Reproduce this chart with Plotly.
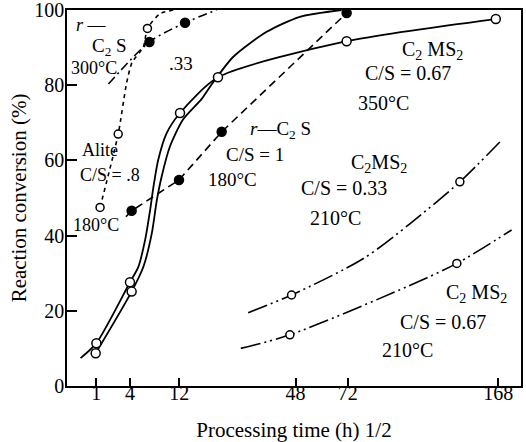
import numpy as np
import plotly.graph_objects as go

# x values are in h^(1/2) units (axis: Processing time (h) 1/2)
tick_hours = [1, 4, 12, 48, 72, 168]
y_ticks = [0, 20, 40, 60, 80, 100]

# solid curve A (with C2MS2 C/S=0.67 350C points)
curve_a_x = [0.53, 1.0, 2.0, 2.25, 2.45, 2.6, 2.7, 2.84, 3.09, 3.49, 4.62, 8.45, 12.89]
curve_a_y = [7.4, 11.4, 27.6, 31.7, 38.8, 46.8, 53.0, 60.1, 67.2, 72.6, 82.1, 91.7, 97.6]
pts_a_x = [1.0, 2.0, 3.49, 4.62, 8.45, 12.89]
pts_a_y = [11.4, 27.6, 72.6, 82.1, 91.7, 97.6]

# solid curve B
curve_b_x = [0.98, 2.05, 2.4, 2.65, 2.8, 2.94, 3.19, 3.58, 4.13, 4.4, 5.07, 6.07, 7.06, 8.3]
curve_b_y = [8.7, 25.1, 31.7, 40.6, 49.4, 55.6, 63.7, 70.9, 76.3, 79.8, 87.5, 94.2, 98.2, 100]
pts_b_x = [0.98, 2.05]
pts_b_y = [8.7, 25.1]

# r-C2S C/S=1 180C (dashed, filled dots)
c2s180_x = [1.88, 2.05, 3.46, 4.73, 8.45]
c2s180_y = [45.0, 46.6, 54.8, 67.6, 99.2]
c2s180_pts_x = [2.05, 3.46, 4.73, 8.45]
c2s180_pts_y = [46.6, 54.8, 67.6, 99.2]

# r-C2S 300C (dash-dot, filled dots)
c2s300_x = [1.36, 2.58, 3.64, 4.58]
c2s300_y = [80.3, 91.5, 96.6, 100]
c2s300_pts_x = [2.58, 3.64]
c2s300_pts_y = [91.5, 96.6]

# Alite C/S=.8 180C (dotted, open circles)
alite_x = [1.11, 1.65, 1.9, 2.06, 2.4, 2.52, 2.89, 3.3]
alite_y = [47.5, 67.0, 80.6, 86.0, 90.2, 95.1, 99.0, 100]
alite_pts_x = [1.11, 1.65, 2.52]
alite_pts_y = [47.5, 67.0, 95.1]

# C2MS2 C/S=0.33 210C (dash-dot-dot)
ms033_x = [5.52, 6.81, 8.95, 10.34, 11.82, 13.01]
ms033_y = [19.5, 24.2, 33.9, 43.2, 54.3, 64.9]
ms033_pts_x = [6.81, 11.82]
ms033_pts_y = [24.2, 54.3]

# C2MS2 C/S=0.67 210C (dash-dot-dot)
ms067_x = [5.3, 6.76, 10.24, 11.73, 13.36]
ms067_y = [10.0, 13.6, 26.4, 32.6, 41.5]
ms067_pts_x = [6.76, 11.73]
ms067_pts_y = [13.6, 32.6]

labels = [
    ("<i>r</i> —", 0.87, 96.0, 18),
    ("C<sub>2</sub> S", 1.38, 90.1, 19),
    ("300°C", 0.93, 84.5, 18),
    (".33", 3.52, 85.9, 19),
    ("Alite", 1.11, 62.7, 18),
    ("C/S = .8", 1.41, 56.1, 18),
    ("180°C", 0.99, 42.8, 18),
    ("<i>r</i>—C<sub>2</sub> S", 6.47, 68.0, 19),
    ("C/S = 1", 5.72, 61.7, 19),
    ("180°C", 5.04, 55.0, 19),
    ("C<sub>2</sub> MS<sub>2</sub>", 11.0, 89.3, 20),
    ("C/S = 0.67", 10.27, 83.2, 20),
    ("350°C", 9.56, 75.2, 20),
    ("C<sub>2</sub>MS<sub>2</sub>", 9.41, 59.3, 20),
    ("C/S = 0.33", 8.37, 52.6, 20),
    ("210°C", 8.13, 44.7, 20),
    ("C<sub>2</sub> MS<sub>2</sub>", 12.33, 24.7, 20),
    ("C/S = 0.67", 11.32, 17.0, 20),
    ("210°C", 10.27, 9.6, 20),
]

FONT = "Liberation Serif, Times New Roman, serif"
BLACK = "black"

fig = go.Figure()

def line(x, y, dash, shape="spline", width=1.6, smoothing=0.8):
    kw = dict(color=BLACK, width=width, dash=dash, shape=shape)
    if shape == "spline":
        kw["smoothing"] = smoothing
    fig.add_trace(go.Scatter(x=x, y=y, mode="lines", line=kw,
                             hoverinfo="skip", showlegend=False))

def pts(x, y, filled, symbol="circle", size=9):
    fig.add_trace(go.Scatter(
        x=x, y=y, mode="markers", showlegend=False,
        marker=dict(symbol=symbol, size=size,
                    color=BLACK if filled else "white",
                    line=dict(color=BLACK, width=1.5))))

line(curve_a_x, curve_a_y, "solid", width=1.8, smoothing=0.7)
line(curve_b_x, curve_b_y, "solid", width=1.8, smoothing=0.7)
line(c2s180_x, c2s180_y, "8px,5px", shape="linear")
line(c2s300_x, c2s300_y, "9px,4px,2px,4px")
line(alite_x, alite_y, "4px,4px", smoothing=0.6)
line(ms033_x, ms033_y, "20px,4px,2px,4px,2px,4px")
line(ms067_x, ms067_y, "20px,4px,2px,4px,2px,4px")

pts(pts_a_x, pts_a_y, False)
pts(pts_b_x, pts_b_y, False)
pts(c2s180_pts_x, c2s180_pts_y, True)
pts(c2s300_pts_x, c2s300_pts_y, True)
pts(alite_pts_x, alite_pts_y, False, size=8)
pts(ms033_pts_x, ms033_pts_y, False, size=8)
pts(ms067_pts_x, ms067_pts_y, False, size=8)

for text, x, y, sz in labels:
    fig.add_annotation(x=x, y=y, text=text, showarrow=False,
                       font=dict(family=FONT, size=sz, color=BLACK))

axis_common = dict(showline=True, linecolor=BLACK, linewidth=1.5, mirror=True,
                   ticks="inside", tickwidth=1.5, tickcolor=BLACK,
                   showgrid=False, zeroline=False, ticklabeloverflow="allow",
                   tickfont=dict(family=FONT, size=20, color=BLACK))

fig.update_xaxes(range=[0.126, 13.64], tickvals=list(np.sqrt(tick_hours)),
                 ticktext=[str(h) for h in tick_hours], ticklen=8,
                 ticklabelstandoff=-12,
                 title=dict(text="Processing time (h) 1/2",
                            font=dict(family=FONT, size=21, color=BLACK),
                            standoff=20),
                 **axis_common)
fig.update_yaxes(range=[0, 100], tickvals=y_ticks, ticklen=10,
                 ticklabelstandoff=-3,
                 title=dict(text="Reaction conversion (%)",
                            font=dict(family=FONT, size=21, color=BLACK),
                            standoff=2),
                 **axis_common)

fig.update_layout(width=526, height=442,
                  margin=dict(l=67, r=5, t=10, b=56, autoexpand=False),
                  paper_bgcolor="white", plot_bgcolor="white",
                  font=dict(family=FONT, color=BLACK))

fig.write_html("out.html", config={"displayModeBar": False},
               post_script="document.body.style.margin='0';")
